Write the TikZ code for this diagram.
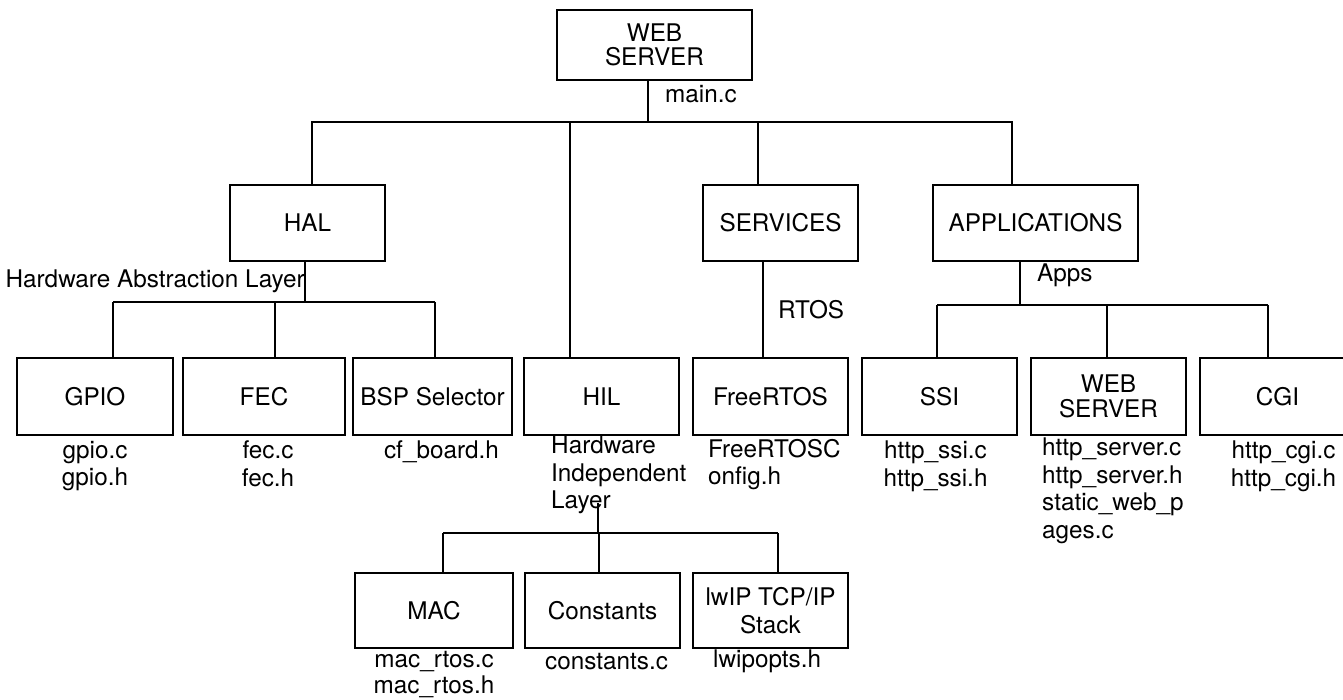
\documentclass[tikz,border=0pt]{standalone}
\usepackage{fontspec}
\setmainfont{TeX Gyre Heros}
\usetikzlibrary{positioning}

\tikzset{
  blk/.style={draw, line width=2pt, minimum width=155pt, minimum height=76pt, inner sep=0pt, align=center},
  files/.style={inner sep=0pt, align=center},
  lbl/.style={inner sep=0pt},
  link/.style={line width=2pt},
}

\begin{document}
\begin{tikzpicture}[x=1pt, y=-1pt, every node/.style={font=\fontsize{24.3}{27.5}\selectfont}]
	\useasboundingbox (0,0) rectangle (1343,700);

	% top level
	\node[blk, minimum width=195pt, minimum height=70pt] (top) at (654.5,45) {WEB\\[-3pt]SERVER};
	\node[blk] (hal) at (307.5,223) {HAL};
	\node[blk] (svc) at (780.5,223) {SERVICES};
	\node[blk, minimum width=205pt] (app) at (1035.5,223) {APPLICATIONS};

	% second row
	\node[blk, minimum width=156pt, minimum height=77pt] (gpio) at (95,396.5) {GPIO};
	\node[blk, minimum width=162pt, minimum height=77pt] (fec) at (264,396.5) {FEC};
	\node[blk, minimum width=159pt, minimum height=77pt] (bsp) at (432.5,396.5) {BSP Selector};
	\node[blk, minimum height=77pt] (hil) at (601.5,396.5) {HIL};
	\node[blk, minimum height=77pt] (frtos) at (770.5,396.5) {FreeRTOS};
	\node[blk, minimum height=77pt] (ssi) at (939.5,396.5) {SSI};
	\node[blk, minimum height=77pt] (web) at (1108.5,396.5) {WEB\\[-3pt]SERVER};
	\node[blk, minimum height=77pt] (cgi) at (1277.5,396.5) {CGI};

	% third row
	\node[blk, minimum width=158pt, minimum height=75pt] (mac) at (434,610.5) {MAC};
	\node[blk, minimum height=75pt] (cons) at (602.5,610.5) {Constants};
	\node[blk, minimum height=75pt] (lwip) at (770.5,610.5) {lwIP TCP/IP\\Stack};

	% labels
	\node[lbl, anchor=base west] (mainc) at (665,103) {main.c};
	\node[lbl, anchor=base east] (hallbl) at (305,288) {Hardware Abstraction Layer};
	\node[lbl, anchor=base west] (rtos) at (778,319) {RTOS};
	\node[lbl, anchor=base west] (apps) at (1037,282) {Apps};

	% source files
	\node[files, below=5pt of gpio] (gpiof) {gpio.c\\gpio.h};
	\node[files, below=5pt of fec, xshift=4pt] (fecf) {fec.c\\fec.h};
	\node[files, below=5pt of bsp, xshift=9pt] (bspf) {cf\_board.h};
	\node[files, align=left, anchor=north west] (hilf) at (551,436) {Hardware\\Independent\\Layer};
	\node[files, align=left, anchor=north west] (frtosf) at (708,439) {FreeRTOSC\\onfig.h};
	\node[files, below=5pt of ssi, xshift=-4pt] (ssif) {http\_ssi.c\\http\_ssi.h};
	\node[files, align=left, anchor=north west] (webf) at (1042,438) {http\_server.c\\http\_server.h\\static\_web\_p\\ages.c};
	\node[files, below=5pt of cgi, xshift=6pt] (cgif) {http\_cgi.c\\http\_cgi.h};
	\node[files, below=2pt of mac, font=\fontsize{24.3}{26.5}\selectfont] (macf) {mac\_rtos.c\\mac\_rtos.h};
	\node[files, below=4pt of cons, xshift=4pt] (consf) {constants.c};
	\node[files, align=left, anchor=north west] (lwipf) at (713,650) {lwipopts.h};

	% main bus
	\coordinate (j0) at (648,122);
	\coordinate (jl) at (312,122);
	\coordinate (jr) at (1012,122);
	\coordinate (jhil) at (570,122);
	\coordinate (jsvc) at (758,122);
	\draw[link] (top.south -| j0) -- (j0);
	\draw[link] (hal.north -| jl) -- (jl) -- (jr) -- (app.north -| jr);
	\draw[link] (jhil) -- (hil.north -| jhil);
	\draw[link] (jsvc) -- (svc.north -| jsvc);

	% HAL bus
	\coordinate (jh) at (305,302);
	\draw[link] (hal.south -| jh) -- (jh);
	\draw[link] (113,302) coordinate (hb1) -- (435,302) coordinate (hb2);
	\foreach \n/\x in {gpio/113, fec/275, bsp/435} {
		\path (\x,302) coordinate (t);
		\draw[link] (t) -- (t |- \n.north);
	}

	% services
	\coordinate (js) at (763,300);
	\draw[link] (svc.south -| js) -- (frtos.north -| js);

	% applications bus
	\coordinate (ja) at (1020,305);
	\draw[link] (app.south -| ja) -- (ja);
	\draw[link] (937,305) coordinate (ab1) -- (1268,305) coordinate (ab2);
	\foreach \n/\x in {ssi/937, web/1107, cgi/1268} {
		\path (\x,305) coordinate (t);
		\draw[link] (t) -- (t |- \n.north);
	}

	% HIL bus
	\coordinate (hs) at (598,503);
	\draw[link] (hs) -- (598,533);
	\draw[link] (443,533) coordinate (ib1) -- (778,533) coordinate (ib2);
	\foreach \n/\x in {mac/443, cons/599, lwip/778} {
		\path (\x,533) coordinate (t);
		\draw[link] (t) -- (t |- \n.north);
	}
\end{tikzpicture}
\end{document}
